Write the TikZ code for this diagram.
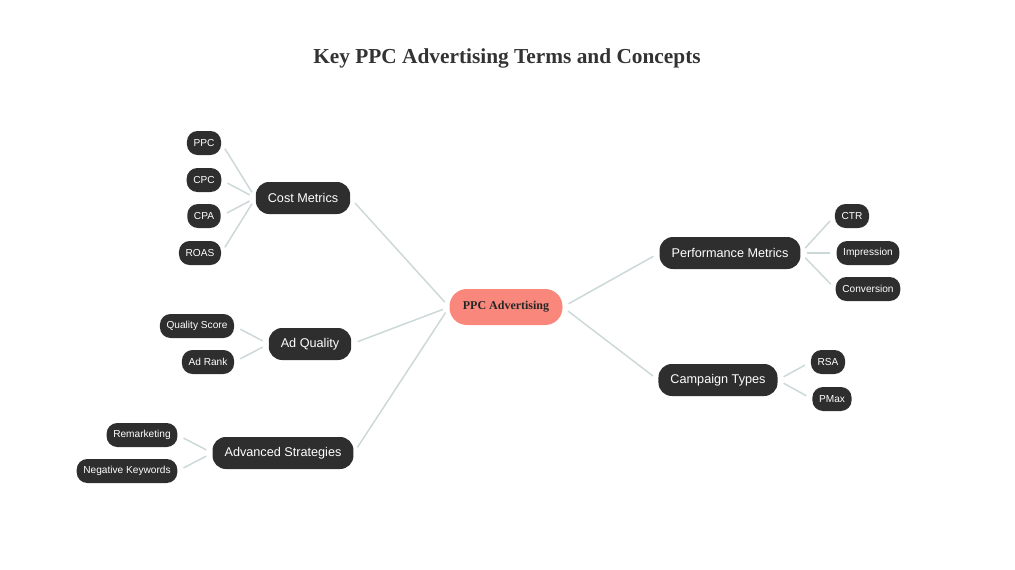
\documentclass[tikz,border=0pt]{standalone}
\usepackage{fontspec}
\setmainfont{Liberation Serif}
\setsansfont{Liberation Sans}
\begin{document}
\begin{tikzpicture}[x=0.75pt,y=-0.75pt,
 link/.style={draw=lnk, line width=1.1pt, shorten <=5pt, shorten >=5pt},
 cat/.style={fill=black!82, text=white, font=\sffamily\fontsize{9.5}{11}\selectfont, rounded corners=10pt, minimum height=24pt, inner xsep=9pt},
 leaf/.style={fill=black!82, text=white, font=\sffamily\fontsize{7.6}{9}\selectfont, rounded corners=8pt, minimum height=18pt, inner xsep=5pt},
]
\definecolor{salmon}{HTML}{FA877C}
\definecolor{lnk}{HTML}{CCD8D8}
\useasboundingbox (0,0) rectangle (1015,569);
\node[font=\bfseries\fontsize{16}{19}\selectfont, text=black!80] (title) at (507,58) {Key PPC Advertising Terms and Concepts};
\node[fill=salmon, text=black!85, font=\bfseries\fontsize{9}{11}\selectfont, rounded corners=13pt, minimum height=27pt, inner xsep=10pt] (root) at (506,307) {PPC Advertising};
\node[cat] (cost) at (303,198) {Cost Metrics};
\node[cat] (adq) at (310,344) {Ad Quality};
\node[cat] (adv) at (283,453) {Advanced Strategies};
\node[cat] (perf) at (730,253) {Performance Metrics};
\node[cat] (camp) at (718,380) {Campaign Types};
\node[leaf] (ppc) at (204,143) {PPC};
\node[leaf] (cpc) at (204,180) {CPC};
\node[leaf] (cpa) at (204,216) {CPA};
\node[leaf] (roas) at (200,253) {ROAS};
\node[leaf] (qs) at (197,326) {Quality Score};
\node[leaf] (ar) at (208,362) {Ad Rank};
\node[leaf] (rem) at (142,435) {Remarketing};
\node[leaf] (nk) at (127,471) {Negative Keywords};
\node[leaf] (ctr) at (852,216) {CTR};
\node[leaf] (imp) at (868,253) {Impression};
\node[leaf] (conv) at (868,289) {Conversion};
\node[leaf] (rsa) at (828,362) {RSA};
\node[leaf] (pmax) at (832,399) {PMax};
\foreach \a/\b in {root/cost,root/adq,root/adv,cost/ppc,cost/cpc,cost/cpa,cost/roas,adq/qs,adq/ar,adv/rem,adv/nk}
  \path[link] (\a.west) -- (\b.east);
\foreach \a/\b in {root/perf,root/camp,perf/ctr,perf/imp,perf/conv,camp/rsa,camp/pmax}
  \path[link] (\a.east) -- (\b.west);
\end{tikzpicture}
\end{document}
